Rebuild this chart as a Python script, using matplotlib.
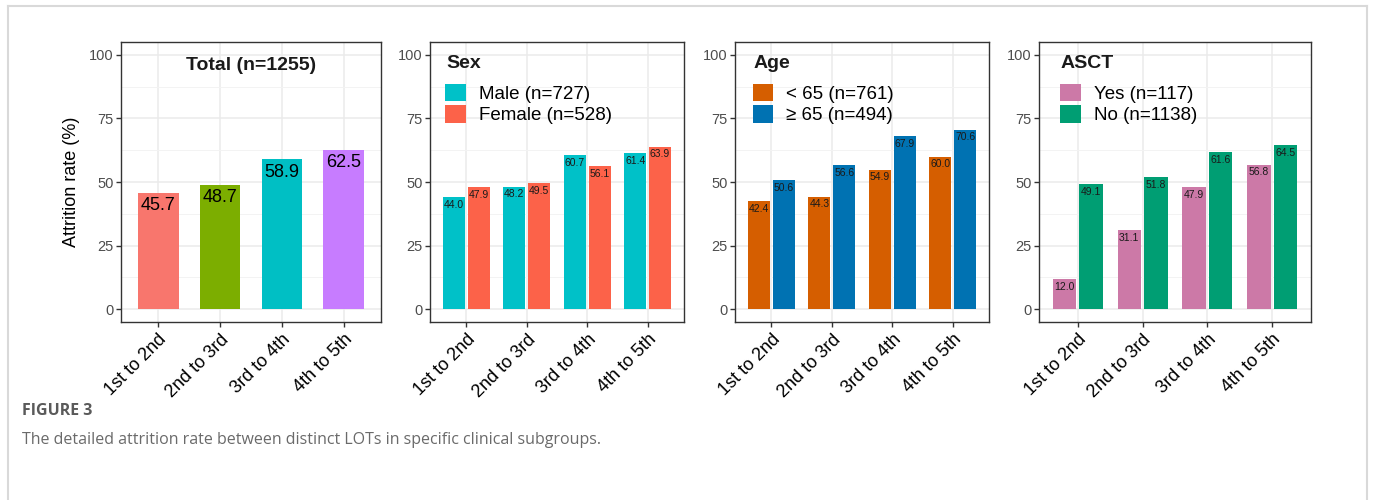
import matplotlib
matplotlib.use("Agg")
import matplotlib.pyplot as plt
import numpy as np

plt.rcParams['font.family'] = ['Liberation Sans', 'DejaVu Sans']

# data
steps = ["1st to 2nd", "2nd to 3rd", "3rd to 4th", "4th to 5th"]
total = [45.7, 48.7, 58.9, 62.5]
total_colors = ["#F8766D", "#7CAE00", "#00BFC4", "#C77CFF"]

male = [44.0, 48.2, 60.7, 61.4]
female = [47.9, 49.5, 56.1, 63.9]
age_lt65 = [42.4, 44.3, 54.9, 60.0]
age_ge65 = [50.6, 56.6, 67.9, 70.6]
asct_yes = [12.0, 31.1, 47.9, 56.8]
asct_no = [49.1, 51.8, 61.6, 64.5]

W, H = 1375, 500
fig = plt.figure(figsize=(W / 100, H / 100), dpi=100)


def frac(l, t, r, b):
    return [l / W, 1 - b / H, (r - l) / W, (b - t) / H]


def style(ax):
    ax.set_xlim(-0.6, 3.6)
    ax.set_ylim(-5, 105)
    ax.set_yticks([0, 25, 50, 75, 100])
    ax.set_yticks([12.5, 37.5, 62.5, 87.5], minor=True)
    ax.set_xticks(range(4))
    ax.set_xticklabels(steps, rotation=45, ha='right', rotation_mode='anchor',
                       fontsize=13, color='black')
    ax.tick_params(axis='y', labelsize=10.5, labelcolor='#4D4D4D', length=3.5,
                   color='#333333', width=1, pad=2)
    ax.tick_params(axis='x', length=3.5, color='#333333', width=1, pad=3)
    ax.tick_params(axis='y', which='minor', length=0)
    ax.grid(True, which='major', color='#EBEBEB', lw=1.1)
    ax.grid(True, which='minor', axis='y', color='#F3F3F3', lw=0.7)
    ax.set_axisbelow(True)
    for s in ax.spines.values():
        s.set_color('#333333')
        s.set_linewidth(1.0)


# panel 1: total
ax1 = fig.add_axes(frac(121, 42, 381, 322))
x = np.arange(4)
bars = ax1.bar(x, total, width=0.66, color=total_colors, edgecolor='none')
for xi, v in zip(x, total):
    ax1.annotate(f"{v:.1f}", (xi, v), xytext=(0, -3), textcoords='offset points',
                 ha='center', va='top', fontsize=13, color='black')
ax1.text(0.5, 0.915, "Total (n=1255)", transform=ax1.transAxes, ha='center',
         va='center', fontsize=14, fontweight='bold', color='#1A1A1A')
ax1.set_ylabel("Attrition rate (%)", fontsize=13, color='black', labelpad=6)
style(ax1)


def dodge_panel(rect, a, b, ca, cb, title, la, lb, key_dx):
    ax = fig.add_axes(frac(*rect))
    ax.bar(x - 0.205, a, width=0.36, color=ca, edgecolor='none', label=la)
    ax.bar(x + 0.205, b, width=0.36, color=cb, edgecolor='none', label=lb)
    for xi, v in zip(x - 0.205, a):
        ax.annotate(f"{v:.1f}", (xi, v), xytext=(0, -2), textcoords='offset points',
                    ha='center', va='top', fontsize=7.5, color='#1A1A1A')
    for xi, v in zip(x + 0.205, b):
        ax.annotate(f"{v:.1f}", (xi, v), xytext=(0, -2), textcoords='offset points',
                    ha='center', va='top', fontsize=7.5, color='#1A1A1A')
    ax.text(key_dx, 0.925, title, transform=ax.transAxes, ha='left', va='center',
            fontsize=14, fontweight='bold', color='#1A1A1A')
    ax.legend(loc='upper left', bbox_to_anchor=(key_dx - 0.003, 0.85), frameon=False,
              fontsize=13.5, handlelength=1.1, handleheight=1.05, labelspacing=0.12,
              handletextpad=0.7, borderpad=0, borderaxespad=0)
    style(ax)
    return ax


ax2 = dodge_panel((430, 42, 684, 322), male, female, "#00C1C8", "#FC6249",
                  "Sex", "Male (n=727)", "Female (n=528)", 0.063)
ax3 = dodge_panel((735, 42, 989, 322), age_lt65, age_ge65, "#D55E00", "#0072B2",
                  "Age", "< 65 (n=761)", "\u2265 65 (n=494)", 0.072)
ax4 = dodge_panel((1039, 42, 1311, 322), asct_yes, asct_no, "#CC79A7", "#009E73",
                  "ASCT", "Yes (n=117)", "No (n=1138)", 0.08)

# frame and caption
fig.add_artist(plt.Line2D([8 / W, 8 / W], [0, 1 - 6 / H], color='#D9D9D9', lw=1.5))
fig.add_artist(plt.Line2D([8 / W, 1367 / W], [1 - 6 / H, 1 - 6 / H], color='#D9D9D9', lw=1.5))
fig.add_artist(plt.Line2D([1367 / W, 1367 / W], [0, 1 - 6 / H], color='#D9D9D9', lw=1.5))

fig.text(22 / W, 1 - 411 / H, "FIGURE 3", fontsize=11.5, fontweight='bold',
         color='#5A5A5A', va='center', ha='left', family=['Open Sans', 'DejaVu Sans'])
fig.text(22 / W, 1 - 440 / H,
         "The detailed attrition rate between distinct LOTs in specific clinical subgroups.",
         fontsize=11.5, color='#6A6A6A', va='center', ha='left',
         family=['Open Sans', 'DejaVu Sans'])

fig.savefig("out.png", dpi=100)
